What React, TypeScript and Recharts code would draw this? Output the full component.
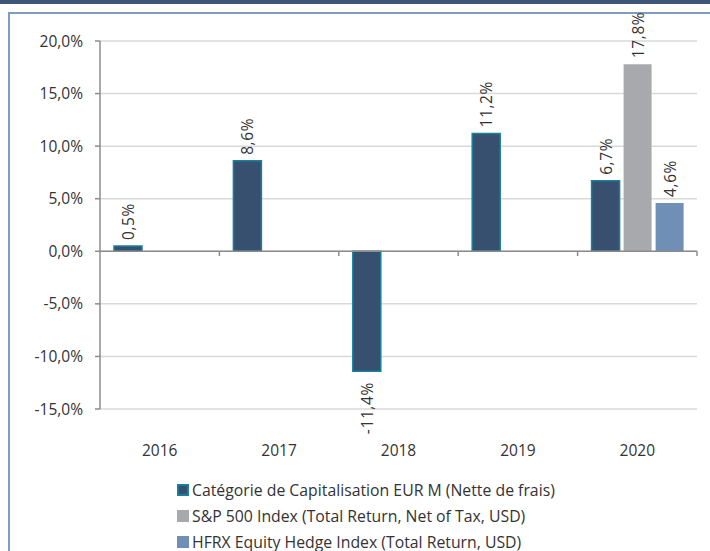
import React from "react"
import {
  BarChart,
  Bar,
  XAxis,
  YAxis,
  CartesianGrid,
  Legend,
  LabelList,
  ReferenceLine,
} from "recharts"

const YEARS = ["2016", "2017", "2018", "2019", "2020"]
const CATEGORIE = [0.5, 8.6, -11.4, 11.2, 6.7]
const SP500 = [null, null, null, null, 17.8]
const HFRX = [null, null, null, null, 4.6]
const Y_TICKS = [-15, -10, -5, 0, 5, 10, 15, 20]
const BOUNDARIES = [1, 2, 3, 4, 5]

const SERIES = [
  { key: "cat", name: "Catégorie de Capitalisation EUR M (Nette de frais)", fill: "#38506f", stroke: "#17819b" },
  { key: "sp", name: "S&P 500 Index (Total Return, Net of Tax, USD)", fill: "#a7a9ac", stroke: "none" },
  { key: "hfrx", name: "HFRX Equity Hedge Index (Total Return, USD)", fill: "#6f8fb6", stroke: "none" },
]

const data = YEARS.map((year, i) => ({
  year,
  cat: CATEGORIE[i],
  sp: SP500[i],
  hfrx: HFRX[i],
}))

const FONT = "'Open Sans', sans-serif"
const fmt = (v: number) => v.toFixed(1).replace(".", ",") + "%"

function BarLabel(props: any) {
  const { x, y, width, height, value } = props
  if (value === null || value === undefined) return null
  const cx = x + width / 2
  const top = Math.min(y, y + height)
  const bottom = Math.max(y, y + height)
  const neg = value < 0
  const ty = neg ? bottom + 11 : top - 6
  return (
    <text
      x={cx}
      y={ty}
      transform={`rotate(-90, ${cx}, ${ty})`}
      textAnchor={neg ? "end" : "start"}
      dominantBaseline="central"
      fontSize={15.5}
      letterSpacing={0.6}
      fontFamily={FONT}
      fill="#333"
    >
      {fmt(value)}
    </text>
  )
}

function LegendBox() {
  return (
    <div style={{ fontFamily: FONT, fontSize: 15.8, color: "#333" }}>
      {SERIES.map((s) => (
        <div key={s.key} style={{ display: "flex", alignItems: "center", height: 26, whiteSpace: "nowrap" }}>
          <span
            style={{
              display: "inline-block",
              width: 12,
              height: 12,
              boxSizing: "border-box",
              background: s.fill,
              border: s.stroke === "none" ? "none" : `2px solid ${s.stroke}`,
              marginRight: 3,
            }}
          />
          {s.name}
        </div>
      ))}
    </div>
  )
}

export default function App() {
  return (
    <div style={{ position: "absolute", left: 0, top: 0, width: 710, height: 551, background: "#fff", overflow: "hidden" }}>
      <div style={{ position: "absolute", left: 0, top: 0, width: 710, height: 4, background: "#3d5679" }} />
      <div
        style={{
          position: "absolute",
          left: 8,
          top: 12,
          width: 720,
          height: 560,
          border: "2px solid #809dc0",
        }}
      />
      <div style={{ position: "absolute", left: 0, top: 0 }}>
        <BarChart
          width={710}
          height={551}
          data={data}
          margin={{ top: 41, right: 13, left: 0, bottom: 0 }}
          barCategoryGap={14}
          barGap={4}
        >
          <CartesianGrid vertical={false} stroke="#d9d9d9" strokeWidth={1.5} />
          <XAxis
            dataKey="year"
            height={142}
            axisLine={false}
            tickLine={false}
            tickSize={0}
            tickMargin={36}
            tick={{ fontSize: 15.5, fontFamily: FONT, fill: "#333" }}
          />
          <XAxis xAxisId="b" type="number" domain={[0, 5]} allowDataOverflow hide dataKey={() => 0} />
          <YAxis
            width={100}
            domain={[-15, 20]}
            ticks={Y_TICKS}
            tickFormatter={fmt}
            axisLine={{ stroke: "#8c8c8c", strokeWidth: 1.5 }}
            tickLine={{ stroke: "#8c8c8c", strokeWidth: 1.5 }}
            tickSize={5}
            tickMargin={12}
            tick={{ fontSize: 15.5, fontFamily: FONT, fill: "#333" }}
          />
          <ReferenceLine y={0} stroke="#8c8c8c" strokeWidth={1.5} />
          {BOUNDARIES.map((b) => (
            <ReferenceLine
              key={b}
              xAxisId="b"
              segment={[
                { x: b, y: 0 },
                { x: b, y: -0.45 },
              ]}
              stroke="#8c8c8c"
              strokeWidth={1.5}
            />
          ))}
          {SERIES.map((s) => (
            <Bar
              key={s.key}
              dataKey={s.key}
              name={s.name}
              fill={s.fill}
              stroke={s.stroke}
              strokeWidth={s.stroke === "none" ? 0 : 1.5}
              isAnimationActive={false}
            >
              <LabelList dataKey={s.key} content={BarLabel} />
            </Bar>
          ))}
          <Legend
            layout="horizontal"
            verticalAlign="middle"
            align="center"
            content={() => <LegendBox />}
            wrapperStyle={{ left: 177, top: 477, width: 520, height: 78 }}
          />
        </BarChart>
      </div>
    </div>
  )
}
